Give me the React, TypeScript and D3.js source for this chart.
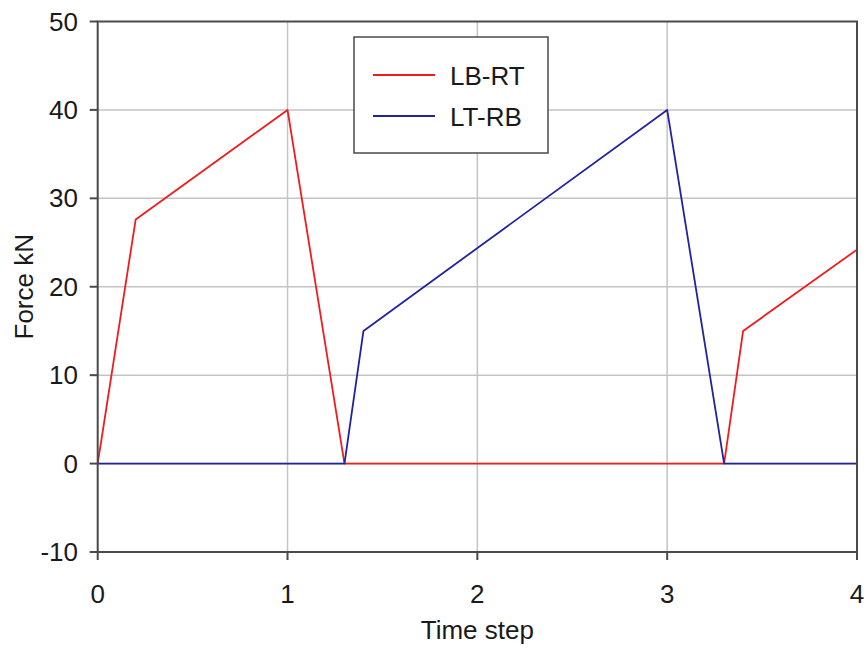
import React from "react";
import * as d3 from "d3";

const seriesNames = ["LB-RT", "LT-RB"];
const seriesColors = ["#f01c1c", "#2222a0"];
const lbrtX = [0, 0.2, 1, 1.3, 3.3, 3.4, 4];
const lbrtY = [0, 27.6, 40, 0, 0, 15, 24.2];
const ltrbX = [0, 1.3, 1.4, 3, 3.3, 4];
const ltrbY = [0, 0, 15, 40, 0, 0];
const xTicks = [0, 1, 2, 3, 4];
const yTicks = [-10, 0, 10, 20, 30, 40, 50];
const xTitle = "Time step";
const yTitle = "Force kN";

const W = 868;
const H = 650;
const M = { left: 97.7, right: 857, top: 21.5, bottom: 552 };
const FONT = "'Liberation Sans', Arial, sans-serif";

export default function App() {
  const x = d3.scaleLinear().domain([0, 4]).range([M.left, M.right]);
  const y = d3.scaleLinear().domain([-10, 50]).range([M.bottom, M.top]);
  const line = d3
    .line<[number, number]>()
    .x((d) => x(d[0]))
    .y((d) => y(d[1]));
  const s1 = lbrtX.map((v, i) => [v, lbrtY[i]] as [number, number]);
  const s2 = ltrbX.map((v, i) => [v, ltrbY[i]] as [number, number]);
  const series = [s1, s2];
  const axisColor = "#4a4a4a";
  const gridColor = "#c4c4c4";
  const textColor = "#1a1a1a";

  return (
    <svg
      width={W}
      height={H}
      style={{ position: "absolute", left: 0, top: 0, background: "#fff" }}
      fontFamily={FONT}
    >
      <rect x={0} y={0} width={W} height={H} fill="#fff" />
      {/* grid */}
      {xTicks
        .filter((t) => t > 0 && t < 4)
        .map((t) => (
          <line
            key={"gx" + t}
            x1={x(t)}
            x2={x(t)}
            y1={M.top}
            y2={M.bottom}
            stroke={gridColor}
            strokeWidth={1.5}
          />
        ))}
      {yTicks
        .filter((t) => t > -10 && t < 50)
        .map((t) => (
          <line
            key={"gy" + t}
            x1={M.left}
            x2={M.right}
            y1={y(t)}
            y2={y(t)}
            stroke={gridColor}
            strokeWidth={1.5}
          />
        ))}
      {/* series */}
      {series.map((s, i) => (
        <path
          key={"s" + i}
          d={line(s) || ""}
          fill="none"
          stroke={seriesColors[i]}
          strokeWidth={1.8}
          strokeLinejoin="round"
        />
      ))}
      {/* frame */}
      <rect
        x={M.left}
        y={M.top}
        width={M.right - M.left}
        height={M.bottom - M.top}
        fill="none"
        stroke={axisColor}
        strokeWidth={2}
      />
      {/* y ticks */}
      {yTicks.map((t) => (
        <g key={"yt" + t}>
          <line x1={M.left - 8} x2={M.left} y1={y(t)} y2={y(t)} stroke={axisColor} strokeWidth={2} />
          <text
            x={78}
            y={y(t) + 9}
            textAnchor="end"
            fontSize={26}
            fill={textColor}
          >
            {t}
          </text>
        </g>
      ))}
      {/* x ticks */}
      {xTicks.map((t) => (
        <g key={"xt" + t}>
          <line x1={x(t)} x2={x(t)} y1={M.bottom} y2={M.bottom + 8} stroke={axisColor} strokeWidth={2} />
          <text x={x(t)} y={603} textAnchor="middle" fontSize={26} fill={textColor}>
            {t}
          </text>
        </g>
      ))}
      <text x={x(2)} y={639} textAnchor="middle" fontSize={26} fill={textColor}>
        {xTitle}
      </text>
      <text
        transform={`translate(33, ${(M.top + M.bottom) / 2}) rotate(-90)`}
        textAnchor="middle"
        fontSize={26}
        fill={textColor}
      >
        {yTitle}
      </text>
      {/* legend */}
      <rect x={354} y={37} width={194} height={116} fill="#fff" stroke={axisColor} strokeWidth={1.5} />
      {seriesNames.map((n, i) => (
        <g key={"lg" + n}>
          <line
            x1={373}
            x2={435}
            y1={75 + i * 41}
            y2={75 + i * 41}
            stroke={seriesColors[i]}
            strokeWidth={1.8}
          />
          <text x={450} y={75 + i * 41 + 9.5} fontSize={26} fill={textColor}>
            {n}
          </text>
        </g>
      ))}
    </svg>
  );
}
